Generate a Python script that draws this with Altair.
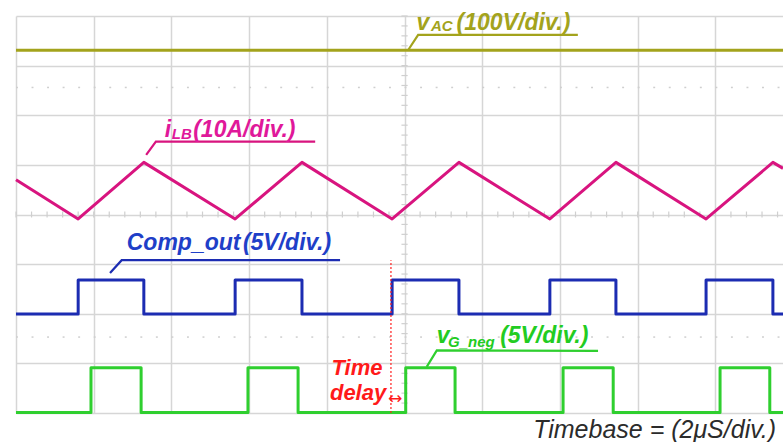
import altair as alt
import numpy as np
import pandas as pd

# Time axis in microseconds (2 us/div), vertical axis in screen divisions (0..8)
T_END = 19.74

# v_AC: flat line
vac_t = [0.0, T_END]
vac_v = [7.31, 7.31]

# i_LB: triangular inductor current (vertex times and levels)
ilb_t = [0.0, 1.60, 3.29, 5.64, 7.36, 9.68, 11.40, 13.74, 15.44, 17.76, 19.48, T_END]
ilb_v = [4.70, 3.91, 5.05, 3.91, 5.05, 3.91, 5.05, 3.91, 5.05, 3.91, 5.05, 4.93]

# Comp_out: comparator output edges
comp_rise = [1.60, 5.64, 9.68, 13.74, 17.76]
comp_fall = [3.29, 7.36, 11.40, 15.44, 19.48]
comp_hi, comp_lo = 2.68, 1.995

# v_G_neg: gate drive edges
vg_rise = [1.93, 5.97, 10.03, 14.08, 18.12]
vg_fall = [3.22, 7.26, 11.30, 15.37, 19.40]
vg_hi, vg_lo = 0.91, 0.012

series_names = ["vAC", "iLB", "Comp_out", "vG_neg"]
trace_colors = ["#a3a31c", "#d8147f", "#1c2cb2", "#2fcf2f"]
label_colors = ["#a3a31c", "#e0189a", "#1f3fc8", "#22cc22"]


def square(rises, falls, lo, hi):
    ts, vs = [0.0], [lo]
    for r, f in zip(rises, falls):
        ts += [r, r, f, f]
        vs += [lo, hi, hi, lo]
    ts.append(T_END)
    vs.append(lo)
    return ts, vs


comp_t, comp_v = square(comp_rise, comp_fall, comp_lo, comp_hi)
vg_t, vg_v = square(vg_rise, vg_fall, vg_lo, vg_hi)

rows = []
for name, ts, vs in [("vAC", vac_t, vac_v), ("iLB", ilb_t, ilb_v),
                     ("Comp_out", comp_t, comp_v), ("vG_neg", vg_t, vg_v)]:
    for i, (t, v) in enumerate(zip(ts, vs)):
        rows.append({"series": name, "t": t, "lev": v, "idx": i})
traces = pd.DataFrame(rows)

# Leader lines from each trace to its label
leader_rows = []
for name, pts in [("vAC", [(10.09, 7.31), (10.35, 7.62), (14.46, 7.62)]),
                  ("iLB", [(3.35, 5.20), (3.60, 5.47), (7.70, 5.47)]),
                  ("Comp_out", [(2.42, 2.82), (2.72, 3.08), (8.34, 3.08)]),
                  ("vG_neg", [(10.57, 0.93), (10.83, 1.26), (14.98, 1.25)])]:
    for i, (t, v) in enumerate(pts):
        leader_rows.append({"series": name, "t": t, "lev": v, "idx": i})
leaders = pd.DataFrame(leader_rows)

# Channel labels (main text and subscripts)
lab_txt = ["v", "AC", "(100V/div.)",
           "i", "LB", "(10A/div.)",
           "Comp_out", "(5V/div.)",
           "v", "G_neg", "(5V/div.)",
           "Time", "delay"]
lab_t = [10.31, 10.68, 11.34,
         3.83, 4.01, 4.56,
         2.85, 5.84,
         10.83, 11.12, 12.46,
         8.12, 8.08]
lab_lev = [7.72, 7.70, 7.72,
           5.57, 5.53, 5.57,
           3.28, 3.28,
           1.41, 1.33, 1.41,
           0.77, 0.27]
lab_size = [23, 15, 23,
            23, 15, 23,
            23, 23,
            23, 15, 23,
            22, 22]
lab_color = [label_colors[0]] * 3 + [label_colors[1]] * 3 + [label_colors[2]] * 2 + \
            [label_colors[3]] * 3 + ["#ff1a1a"] * 2
labels = pd.DataFrame({"txt": lab_txt, "t": lab_t, "lev": lab_lev,
                       "size": lab_size, "color": lab_color})

x_axis = alt.Axis(values=list(range(0, 19, 2)), grid=True, gridColor="#d6d6d6",
                  gridWidth=1.5, domain=False, ticks=False, labels=False, title=None)
y_axis = alt.Axis(values=list(range(0, 9)), grid=True, gridColor="#d6d6d6",
                  gridWidth=1.5, domain=False, ticks=False, labels=False, title=None)
xs = alt.Scale(domain=[0, T_END], nice=False, zero=False)
ys = alt.Scale(domain=[0, 8], nice=False, zero=False)


def X(f="t"):
    return alt.X(f"{f}:Q", scale=xs, axis=x_axis)


def Y(f="lev"):
    return alt.Y(f"{f}:Q", scale=ys, axis=y_axis)


# Graticule decorations: centre-line minor ticks and dotted rows
vt = np.round(np.arange(0, 8.01, 0.2), 2)
center_v = pd.DataFrame({"t": 10 - 0.08, "t2": 10 + 0.08, "lev": vt})
ht = np.round(np.arange(0, T_END, 0.4), 2)
center_h = pd.DataFrame({"t": ht, "lev": 4 - 0.06, "lev2": 4 + 0.06})
dot_rows = pd.DataFrame([{"t": t, "t2": t + 0.05, "lev": lv}
                         for lv in [6.56, 1.53] for t in ht])

grid = alt.Chart(center_v).mark_rule(color="#cfcfcf", strokeWidth=1.2).encode(
    x=X(), x2="t2:Q", y=Y())
grid_h = alt.Chart(center_h).mark_rule(color="#cfcfcf", strokeWidth=1.2).encode(
    x=X(), y=Y(), y2="lev2:Q")
dots = alt.Chart(dot_rows).mark_rule(color="#cfcfcf", strokeWidth=1.5).encode(
    x=X(), x2="t2:Q", y=Y())

color_scale = alt.Scale(domain=series_names, range=trace_colors)
lines = alt.Chart(traces).mark_line(strokeWidth=3, strokeJoin="round").encode(
    x=X(), y=Y(), order="idx:Q",
    color=alt.Color("series:N", scale=color_scale, legend=None),
    detail="series:N")

label_scale = alt.Scale(domain=series_names, range=label_colors)
lead = alt.Chart(leaders).mark_line(strokeWidth=2.2).encode(
    x=X(), y=Y(), order="idx:Q",
    color=alt.Color("series:N", scale=label_scale, legend=None),
    detail="series:N")

delay_line = alt.Chart(pd.DataFrame({"t": [9.65], "lev": [0.0], "lev2": [3.08]})).mark_rule(
    color="#ff2020", strokeWidth=1.2, strokeDash=[2, 2]).encode(x=X(), y=Y(), y2="lev2:Q")

texts = alt.Chart(labels).mark_text(
    align="left", baseline="alphabetic", font="Liberation Sans",
    fontWeight="bold", fontStyle="italic").encode(
    x=X(), y=Y(), text="txt:N",
    size=alt.Size("size:Q", scale=None, legend=None),
    color=alt.Color("color:N", scale=None, legend=None))

arrow = alt.Chart(pd.DataFrame({"t": [9.76], "lev": [0.28], "txt": ["\u2194"]})).mark_text(
    align="center", baseline="middle", font="DejaVu Sans", fontSize=17,
    color="#ff1a1a").encode(x=X(), y=Y(), text="txt:N")

timebase = alt.Chart(pd.DataFrame({"t": [13.31], "lev": [-0.50],
                                   "txt": ["Timebase = (2\u03bcS/div.)"]})).mark_text(
    align="left", baseline="alphabetic", font="Liberation Sans", fontSize=25,
    fontStyle="italic", color="#2b2b2b").encode(x=X(), y=Y(), text="txt:N")

chart = alt.layer(grid, grid_h, dots, lines, lead, delay_line, texts, arrow, timebase).properties(
    width=767, height=397,
    autosize=alt.AutoSizeParams(type="none"),
    padding={"left": 16, "top": 16, "right": 0, "bottom": 29},
    background="white",
).configure_view(stroke=None)

chart.save("out.html", embed_options={"renderer": "svg", "actions": False})
